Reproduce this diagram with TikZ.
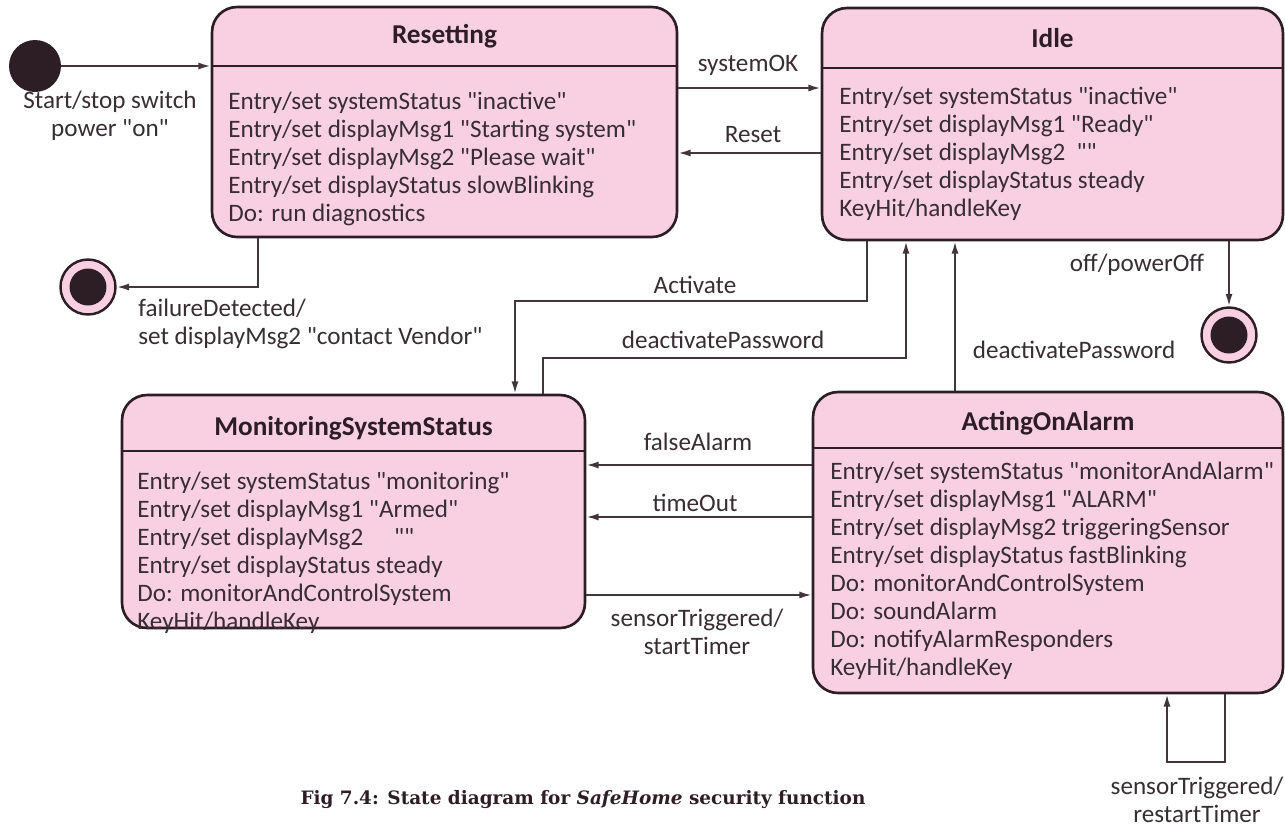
\documentclass[tikz,border=0pt]{standalone}
\usepackage{fontspec}
\newfontfamily\stfont{Carlito}
\newfontfamily\capfont{DejaVu Serif}
\usepackage{tikz}
\usetikzlibrary{arrows.meta}

\definecolor{statepink}{RGB}{249,208,226}
\definecolor{edgedark}{RGB}{45,30,38}
\definecolor{inkgray}{RGB}{55,45,50}

\tikzset{
  state/.style={draw=edgedark, line width=1.5pt, fill=statepink, rounded corners=0.5cm, inner sep=0pt},
  sepline/.style={draw=edgedark, line width=1.6pt},
  stitle/.style={font=\stfont\fontsize{15.5}{18}\selectfont\bfseries, text=edgedark, inner sep=0pt},
  sbody/.style={anchor=north west, align=left, inner sep=0pt, font=\stfont\fontsize{14.3}{15.9}\selectfont, text=inkgray},
  lbl/.style={font=\stfont\fontsize{14.3}{15.9}\selectfont, text=inkgray, align=center, inner sep=0pt},
  trans/.style={draw=edgedark!90, line width=1.1pt, -{Latex[length=7pt,width=4pt]}},
  init/.style={circle, fill=edgedark, minimum size=1.04cm, inner sep=0pt},
  finring/.style={circle, draw=edgedark, line width=1.4pt, fill=statepink, minimum size=1.1cm, inner sep=0pt},
  findot/.style={circle, fill=edgedark, minimum size=0.74cm, inner sep=0pt},
}

\begin{document}
\begin{tikzpicture}[x=0.02cm,y=-0.02cm]
\useasboundingbox (0,0) rectangle (1285,833);

% states
\node[state, minimum width=9.30cm, minimum height=4.60cm] (reset) at (444.5,122) {};
\node[state, minimum width=9.22cm, minimum height=4.64cm] (idle) at (1052.5,124) {};
\node[state, minimum width=9.26cm, minimum height=4.66cm] (monitor) at (353.5,511.5) {};
\node[state, minimum width=9.40cm, minimum height=6.02cm] (alarm) at (1048,542.5) {};

\draw[sepline] (reset.west |- 0,66) -- (reset.east |- 0,66);
\draw[sepline] (idle.west |- 0,68) -- (idle.east |- 0,68);
\draw[sepline] (monitor.west |- 0,451) -- (monitor.east |- 0,451);
\draw[sepline] (alarm.west |- 0,448) -- (alarm.east |- 0,448);

\node[stitle] (resetT) at (444.5,36) {Resetting};
\node[stitle] (idleT) at (1052.5,38) {Idle};
\node[stitle] (monitorT) at (353.5,428) {MonitoringSystemStatus};
\node[stitle] (alarmT) at (1048,423) {ActingOnAlarm};

\node[sbody] (resetB) at (228,92) {Entry/set systemStatus "inactive"\\
Entry/set displayMsg1 "Starting system"\\
Entry/set displayMsg2 "Please wait"\\
Entry/set displayStatus slowBlinking\\
Do: run diagnostics};
\node[sbody] (idleB) at (839,87) {Entry/set systemStatus "inactive"\\
Entry/set displayMsg1 "Ready"\\
Entry/set displayMsg2 \ ""\\
Entry/set displayStatus steady\\
KeyHit/handleKey};
\node[sbody] (monitorB) at (137,472) {Entry/set systemStatus "monitoring"\\
Entry/set displayMsg1 "Armed"\\
Entry/set displayMsg2 \quad""\\
Entry/set displayStatus steady\\
Do: monitorAndControlSystem\\
KeyHit/handleKey};
\node[sbody] (alarmB) at (830,462) {Entry/set systemStatus "monitorAndAlarm"\\
Entry/set displayMsg1 "ALARM"\\
Entry/set displayMsg2 triggeringSensor\\
Entry/set displayStatus fastBlinking\\
Do: monitorAndControlSystem\\
Do: soundAlarm\\
Do: notifyAlarmResponders\\
KeyHit/handleKey};

% pseudo states
\node[init] (start) at (35,66) {};
\node[finring] (end1) at (88,287) {};
\node[findot] (end1d) at (end1) {};
\node[finring] (end2) at (1229,335) {};
\node[findot] (end2d) at (end2) {};

% transitions
\draw[trans] (start) -- (reset.west |- start);
\draw[trans] (reset.east |- 0,88) -- (idle.west |- 0,88);
\draw[trans] (idle.west |- 0,153) -- (reset.east |- 0,153);
\draw[trans] (reset.south -| 258,0) |- (end1);
\draw[trans] (idle.south -| 867,0) |- (515,301) -- (monitor.north -| 515,0);
\draw[trans] (monitor.north -| 543,0) |- (906,358) -- (idle.south -| 906,0);
\draw[trans] (alarm.north -| 955,0) -- (idle.south -| 955,0);
\draw[trans] (idle.south -| end2) -- (end2);
\draw[trans] (alarm.west |- 0,465) -- (monitor.east |- 0,465);
\draw[trans] (alarm.west |- 0,517) -- (monitor.east |- 0,517);
\draw[trans] (monitor.east |- 0,595) -- (alarm.west |- 0,595);
\draw[trans] (alarm.south -| 1225,0) |- (1196,762) -| (alarm.south -| 1167,0);

% labels
\node[lbl] (lstart) at (110,116) {Start/stop switch\\power "on"};
\node[lbl] (lsysok) at (748,65) {systemOK};
\node[lbl] (lreset) at (753,135) {Reset};
\node[lbl, align=left, anchor=west] (lfail) at (138,324) {failureDetected/\\set displayMsg2 "contact Vendor"};
\node[lbl] (lact) at (695,285) {Activate};
\node[lbl] (ldeact) at (723,340) {deactivatePassword};
\node[lbl] (ldeact2) at (1074,350) {deactivatePassword};
\node[lbl] (loff) at (1137,265) {off/powerOff};
\node[lbl] (lfalse) at (698,442) {falseAlarm};
\node[lbl] (ltime) at (695,503) {timeOut};
\node[lbl] (lsens) at (697,632) {sensorTriggered/\\startTimer};
\node[lbl] (lloop) at (1197,800) {sensorTriggered/\\restartTimer};

\node[font=\capfont\fontsize{10.5}{12}\selectfont\bfseries, text=edgedark] (cap) at (583,800) {Fig 7.4: State diagram for \textit{SafeHome} security function};

\end{tikzpicture}
\end{document}
